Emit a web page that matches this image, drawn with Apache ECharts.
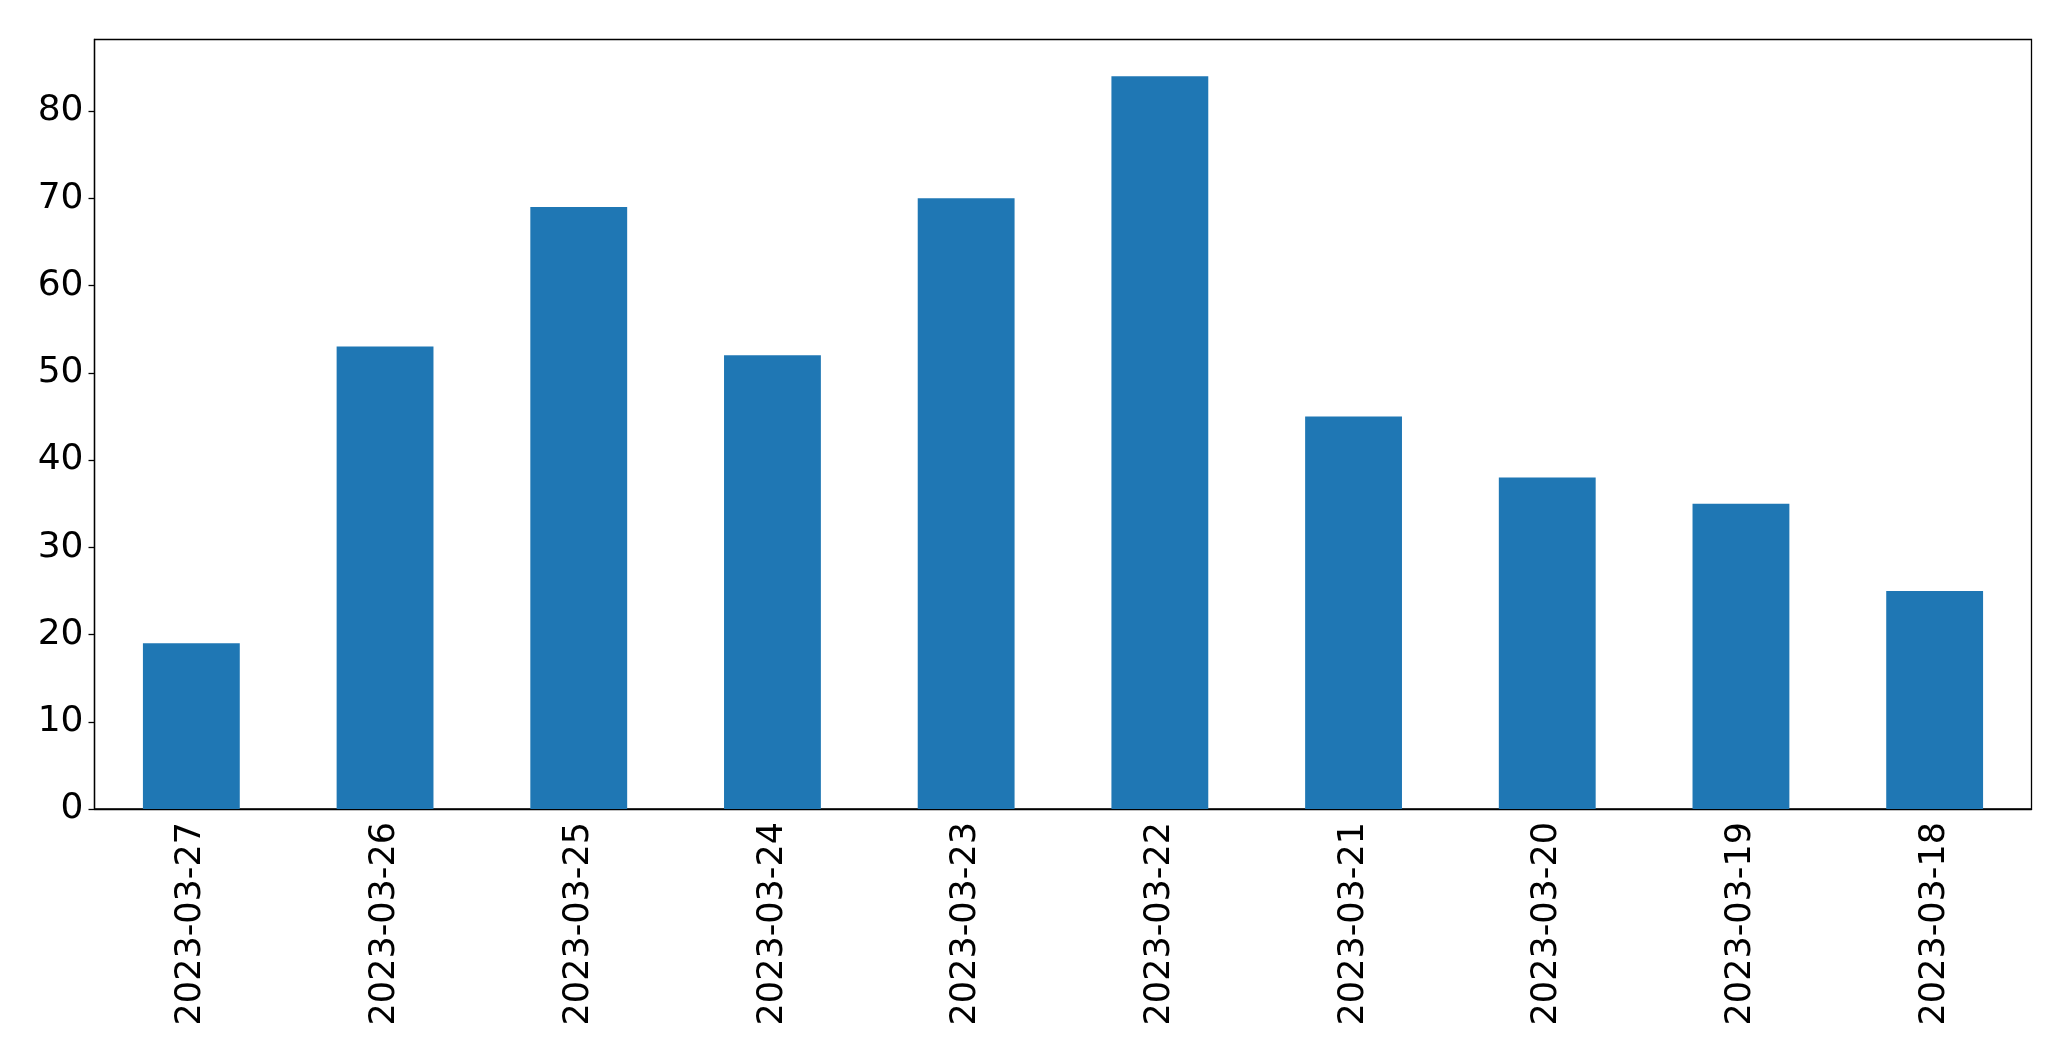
<!DOCTYPE html>
<html>
<head>
<meta charset="utf-8">
<script src="https://cdn.jsdelivr.net/npm/echarts@6/dist/echarts.min.js"></script>
<style>
  html, body { margin: 0; padding: 0; background: #fff; }
  #chart { width: 2071px; height: 1061px; }
</style>
</head>
<body>
<div id="chart"></div>
<script>
const dates = ['2023-03-27', '2023-03-26', '2023-03-25', '2023-03-24', '2023-03-23',
  '2023-03-22', '2023-03-21', '2023-03-20', '2023-03-19', '2023-03-18']
const counts = [19, 53, 69, 52, 70, 84, 45, 38, 35, 25]

const font = 'DejaVu Sans'
const chart = echarts.init(document.getElementById('chart'))

chart.setOption({
  animation: false,
  grid: {
    left: 94.5,
    right: 39.5,
    top: 39.5,
    bottom: 252,
    show: true,
    borderColor: '#000',
    borderWidth: 1.3
  },
  xAxis: {
    type: 'category',
    data: dates,
    axisLine: { lineStyle: { color: '#000', width: 1.3 } },
    axisTick: { alignWithLabel: true, length: 6, lineStyle: { color: '#000', width: 1.3 } },
    axisLabel: { rotate: 90, margin: 13, color: '#000', fontSize: 35, fontFamily: font }
  },
  yAxis: {
    type: 'value',
    min: 0,
    max: 88.2,
    interval: 10,
    splitLine: { show: false },
    axisLine: { show: true, lineStyle: { color: '#000', width: 1.3 } },
    axisTick: { show: true, length: 6, lineStyle: { color: '#000', width: 1.3 } },
    axisLabel: { showMaxLabel: false, margin: 11, color: '#000', fontSize: 36, fontFamily: font }
  },
  series: [{
    type: 'bar',
    data: counts,
    barCategoryGap: '50%',
    itemStyle: { color: '#1f77b4' }
  }]
})
</script>
</body>
</html>
